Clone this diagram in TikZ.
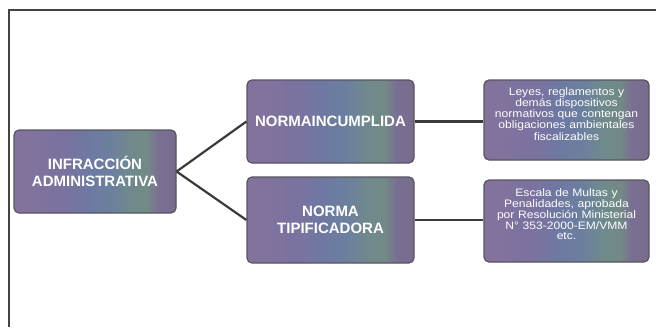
\documentclass[tikz,border=0pt]{standalone}
\usepackage{fontspec}
\setmainfont{Liberation Sans}
\newfontfamily\boxfont[FakeStretch=1.12]{Liberation Sans}
\definecolor{sA}{HTML}{84739C}
\definecolor{sB}{HTML}{7B729F}
\definecolor{sC}{HTML}{6E78A2}
\definecolor{sD}{HTML}{6C809E}
\definecolor{sE}{HTML}{6F8A8C}
\definecolor{sF}{HTML}{728A86}
\definecolor{sG}{HTML}{7A6E92}
\definecolor{sH}{HTML}{786C8E}
\definecolor{boxEdge}{HTML}{58545F}
\definecolor{lineC}{HTML}{3A3A3A}
\definecolor{frameC}{HTML}{444444}
\pgfdeclarehorizontalshading{boxshade}{100bp}{%
  color(0bp)=(sA); color(25bp)=(sA); color(40bp)=(sB); color(47.5bp)=(sC);
  color(55bp)=(sD); color(61bp)=(sE); color(66bp)=(sF); color(70bp)=(sG);
  color(75bp)=(sH); color(100bp)=(sH)}
\tikzset{
  mainbox/.style={draw=boxEdge, line width=1.2pt, rounded corners=5pt,
    shading=boxshade, text=white, align=center, inner sep=2pt,
    font=\bfseries\fontsize{15}{17.5}\selectfont},
  notebox/.style={draw=boxEdge, line width=1.2pt, rounded corners=5pt,
    shading=boxshade, minimum width=165pt},
  notetext/.style={text=white, align=center, inner sep=0pt, text width=162pt,
    font=\boxfont\fontsize{10.8}{9.4}\selectfont},
  link/.style={draw=lineC, line width=2.2pt},
  frame/.style={draw=frameC, line width=2pt}
}
\begin{document}
\begin{tikzpicture}[x=1pt,y=-1pt]
\useasboundingbox (0,0) rectangle (656,327);
\coordinate (ftop) at (656,10);
\coordinate (fcorner) at (9,10);
\coordinate (fbot) at (9,327);
\draw[frame] (ftop) -- (fcorner) -- (fbot);

\node[mainbox, minimum width=162pt, minimum height=83pt] (inf) at (95,171.5)
  {INFRACCIÓN\\ADMINISTRATIVA};
\node[mainbox, minimum width=167pt, minimum height=83pt] (nin) at (330.5,121.5)
  {NORMAINCUMPLIDA};
\node[mainbox, minimum width=167pt, minimum height=86pt] (ntp) at (330.5,220)
  {NORMA\\TIPIFICADORA};
\node[notebox, minimum height=80pt] (r1) at (566.5,120) {};
\node[notetext] (r1t) at (566.5,114)
  {Leyes, reglamentos y\\demás dispositivos\\normativos que contengan\\obligaciones ambientales\\fiscalizables};
\node[notebox, minimum height=82pt] (r2) at (566.5,221) {};
\node[notetext] (r2t) at (566.5,214)
  {Escala de Multas y\\Penalidades, aprobada\\por Resolución Ministerial\\N° 353-2000-EM/VMM\\etc.};

\draw[link] (inf.east) -- (nin.west);
\draw[link] (inf.east) -- (ntp.west);
\draw[link] (nin.east) -- (nin.east -| r1.west);
\draw[link] (ntp.east) -- (ntp.east -| r2.west);
\end{tikzpicture}
\end{document}
